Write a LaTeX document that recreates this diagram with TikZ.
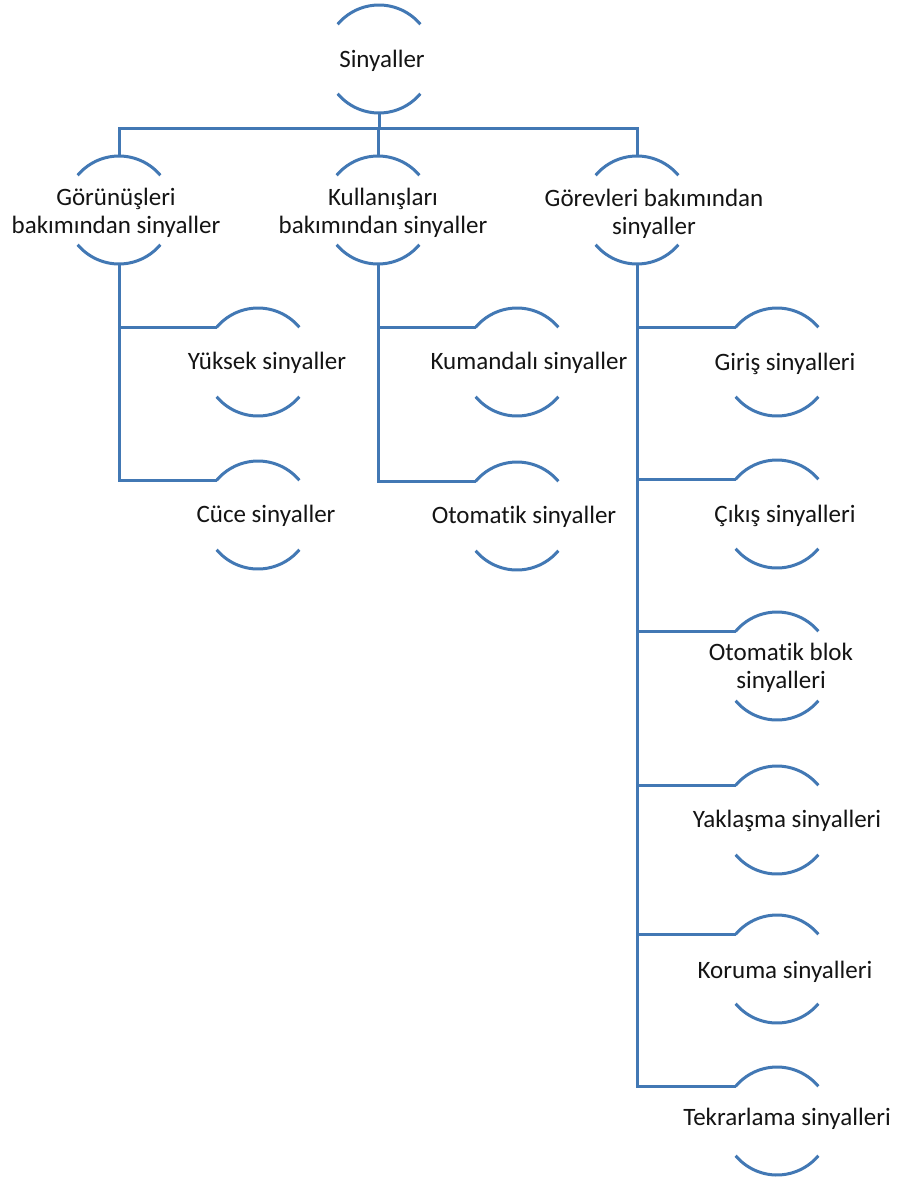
\documentclass[tikz,border=0pt]{standalone}
\usepackage{fontspec}
\setmainfont{Carlito}[Ligatures=NoCommon]
\definecolor{lineblue}{RGB}{66,120,180}
\definecolor{txt}{RGB}{20,20,20}
\begin{document}
\begin{tikzpicture}[x=1pt,y=-1pt,
  ring/.style={circle,minimum size=108pt,inner sep=0pt,outer sep=0pt},
  lbl/.style={align=center,text=txt,inner sep=0pt,font=\fontsize{25}{28}\selectfont},
  conn/.style={draw=lineblue,line width=3pt},
  arcline/.style={draw=lineblue,line width=3pt}]
\useasboundingbox[fill=white] (0,0) rectangle (899,1178);
\newcommand\twoarcs[1]{%
  \draw[arcline] (#1.40) arc[start angle=40,end angle=140,radius=54pt];
  \draw[arcline] (#1.220) arc[start angle=220,end angle=320,radius=54pt];}
% circles
\node[ring] (root) at (379,59) {};
\node[ring] (g1) at (119,210) {};
\node[ring] (g2) at (378,210) {};
\node[ring] (g3) at (637,210) {};
\node[ring] (a1) at (258,362) {};
\node[ring] (a2) at (258,515) {};
\node[ring] (b1) at (517,362) {};
\node[ring] (b2) at (517,516) {};
\node[ring] (c1) at (777,362) {};
\node[ring] (c2) at (777,514) {};
\node[ring] (c3) at (777,666) {};
\node[ring] (c4) at (777,820) {};
\node[ring] (c5) at (777,969) {};
\node[ring] (c6) at (777,1121) {};
\foreach \n in {root,g1,g2,g3,a1,a2,b1,b2,c1,c2,c3,c4,c5,c6}{\twoarcs{\n}}
% labels
\node[lbl] (troot) at (382,61) {Sinyaller};
\node[lbl] (tg1) at (116,213) {Görünüşleri\\bakımından sinyaller};
\node[lbl] (tg2) at (383,213) {Kullanışları\\bakımından sinyaller};
\node[lbl] (tg3) at (654,214) {Görevleri bakımından\\sinyaller};
\node[lbl] (ta1) at (267,363) {Yüksek sinyaller};
\node[lbl] (ta2) at (266,516) {Cüce sinyaller};
\node[lbl] (tb1) at (529,363) {Kumandalı sinyaller};
\node[lbl] (tb2) at (524,517) {Otomatik sinyaller};
\node[lbl] (tc1) at (785,364) {Giriş sinyalleri};
\node[lbl] (tc2) at (785,516) {Çıkış sinyalleri};
\node[lbl] (tc3) at (781,668) {Otomatik blok\\sinyalleri};
\node[lbl] (tc4) at (787,821) {Yaklaşma sinyalleri};
\node[lbl] (tc5) at (785,972) {Koruma sinyalleri};
\node[lbl] (tc6) at (787,1119) {Tekrarlama sinyalleri};
% connectors
\coordinate (bus) at (379,128);
\draw[conn] (root.south) -- (root.south |- bus);
\draw[conn] (g1.north) |- (g3.north |- bus) -- (g3.north);
\draw[conn] (g2.north) -- (g2.north |- bus);
\draw[conn] (g1.south) |- (a2.140);
\draw[conn] (g1.south |- a1.140) -- (a1.140);
\draw[conn] (g2.south) |- (b2.140);
\draw[conn] (g2.south |- b1.140) -- (b1.140);
\draw[conn] (g3.south) |- (c6.140);
\foreach \n in {c1,c2,c3,c4,c5}{\draw[conn] (g3.south |- \n.140) -- (\n.140);}
\end{tikzpicture}
\end{document}
